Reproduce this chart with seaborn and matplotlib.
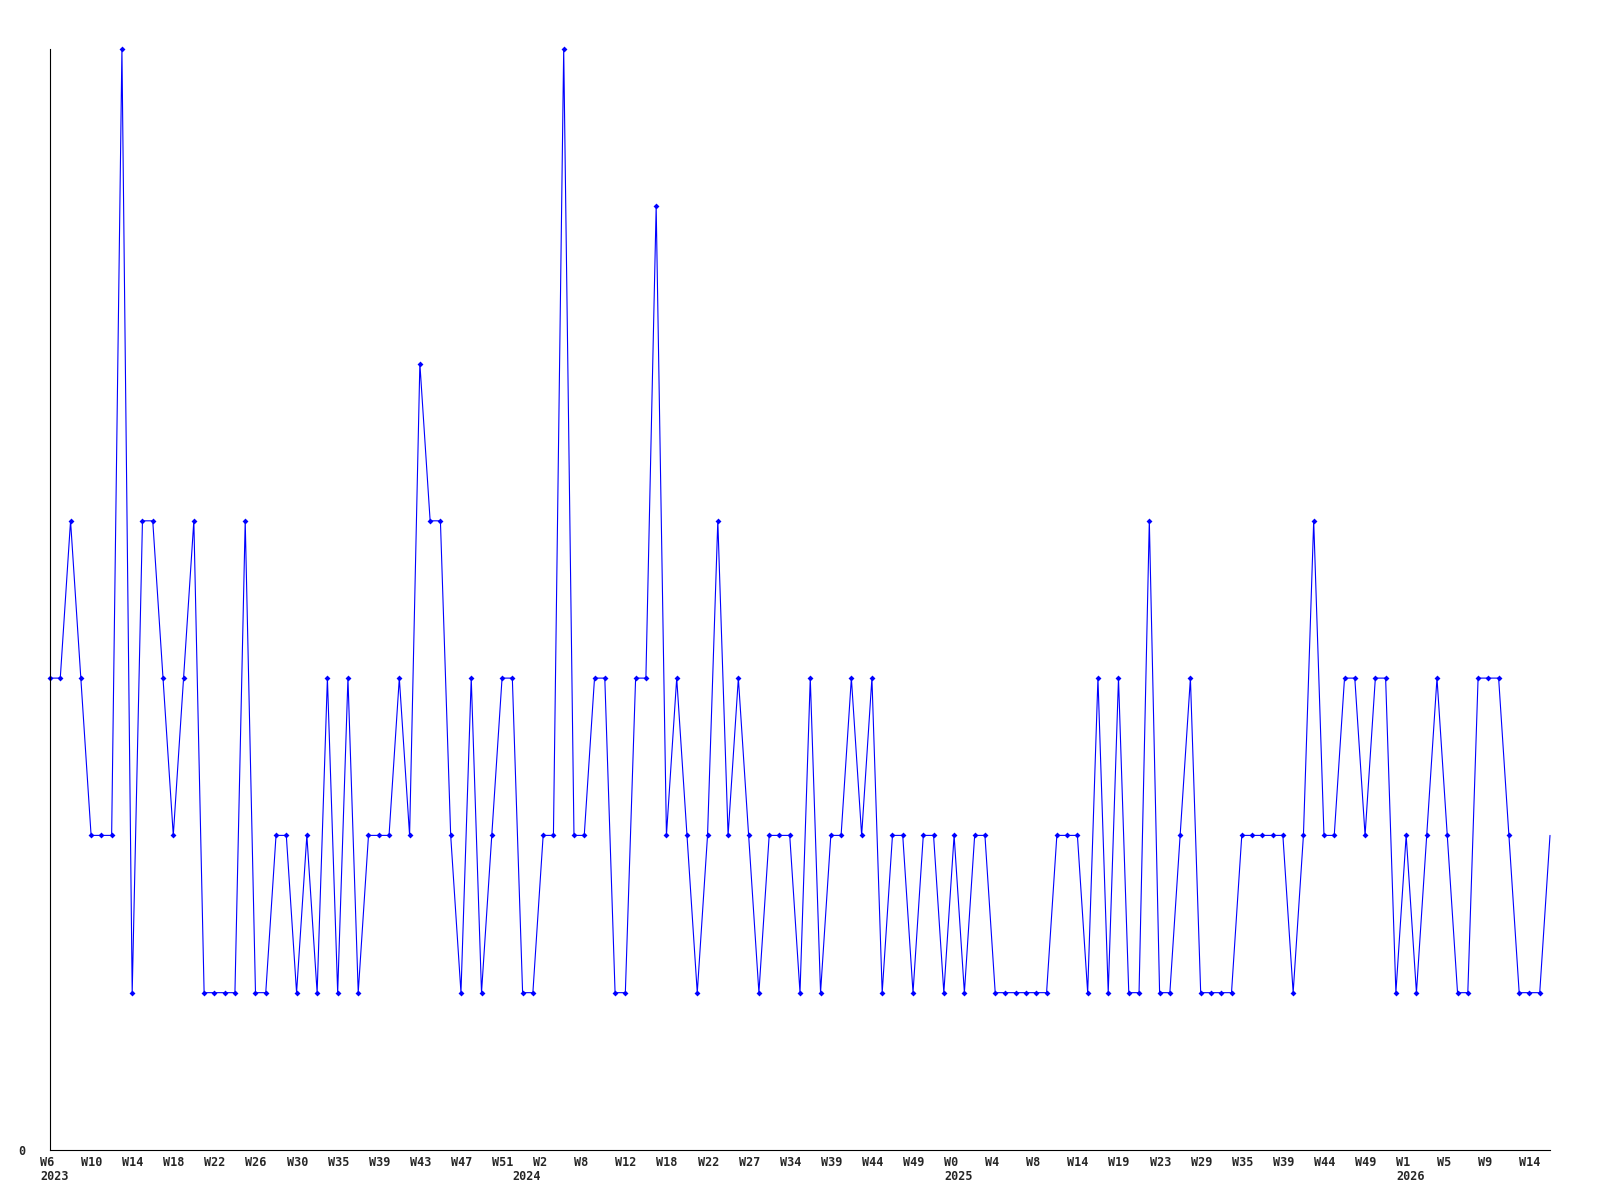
import matplotlib
matplotlib.use("Agg")
import matplotlib.pyplot as plt
import matplotlib.transforms as mtransforms
import pandas as pd
import seaborn as sns

# weekly counts, one value per week shown on the axis
counts = [3, 3, 4, 3, 2, 2, 2, 7, 1, 4,
          4, 3, 2, 3, 4, 1, 1, 1, 1, 4,
          1, 1, 2, 2, 1, 2, 1, 3, 1, 3,
          1, 2, 2, 2, 3, 2, 5, 4, 4, 2,
          1, 3, 1, 2, 3, 3, 1, 1, 2, 2,
          7, 2, 2, 3, 3, 1, 1, 3, 3, 6,
          2, 3, 2, 1, 2, 4, 2, 3, 2, 1,
          2, 2, 2, 1, 3, 1, 2, 2, 3, 2,
          3, 1, 2, 2, 1, 2, 2, 1, 2, 1,
          2, 2, 1, 1, 1, 1, 1, 1, 2, 2,
          2, 1, 3, 1, 3, 1, 1, 4, 1, 1,
          2, 3, 1, 1, 1, 1, 2, 2, 2, 2,
          2, 1, 2, 4, 2, 2, 3, 3, 2, 3,
          3, 1, 2, 1, 2, 3, 2, 1, 1, 3,
          3, 3, 2, 1, 1, 1, 2]

# every 4th week gets a label
week_labels = ["W6", "W10", "W14", "W18", "W22", "W26", "W30", "W35", "W39",
               "W43", "W47", "W51", "W2", "W8", "W12", "W18", "W22", "W27",
               "W34", "W39", "W44", "W49", "W0", "W4", "W8", "W14", "W19",
               "W23", "W29", "W35", "W39", "W44", "W49", "W1", "W5", "W9", "W14"]

# first week of each year
years = ["2023", "2024", "2025", "2026"]
year_start = [0, 46, 88, 132]

df = pd.DataFrame({"week": range(len(counts)), "count": counts})

sns.set_style("white")
plt.rcParams["font.family"] = ["DejaVu Sans Mono"]
plt.rcParams["font.weight"] = "bold"

fig = plt.figure(figsize=(16, 12), dpi=100)
ax = fig.add_axes([0.03125, 0.0417, 0.9375, 0.9175])

sns.lineplot(data=df, x="week", y="count", ax=ax, color="#0000ff",
             linewidth=0.8, marker="D", markersize=3, markeredgewidth=0,
             markevery=list(range(len(counts) - 1)), clip_on=False)

ax.set_xlim(0, len(counts) - 1)
ax.set_ylim(0, 7)
ax.set_xlabel("")
ax.set_ylabel("")

for s in ["top", "right"]:
    ax.spines[s].set_visible(False)
for s in ["left", "bottom"]:
    ax.spines[s].set_color("black")
    ax.spines[s].set_linewidth(0.8)

ax.set_yticks([0])
ax.set_yticklabels(["0"])
ax.tick_params(axis="y", length=0, pad=18, labelsize=8.5)

ax.set_xticks(range(0, len(counts), 4))
ax.set_xticklabels(week_labels)
ax.tick_params(axis="x", length=0, pad=4, labelsize=8.5)

# shift week labels so they start a little left of their point
shift = mtransforms.ScaledTranslation(-10 / 100, 0, fig.dpi_scale_trans)
for lab in ax.get_xticklabels():
    lab.set_horizontalalignment("left")
    lab.set_transform(lab.get_transform() + shift)

trans = mtransforms.blended_transform_factory(ax.transData, ax.transAxes)
for yr, pos in zip(years, year_start):
    ax.text(pos, 0, yr, transform=trans + mtransforms.ScaledTranslation(-10 / 100, -27 / 100, fig.dpi_scale_trans),
            ha="left", va="center", fontsize=8.5, fontweight="bold")

fig.savefig("out.png", dpi=100)
